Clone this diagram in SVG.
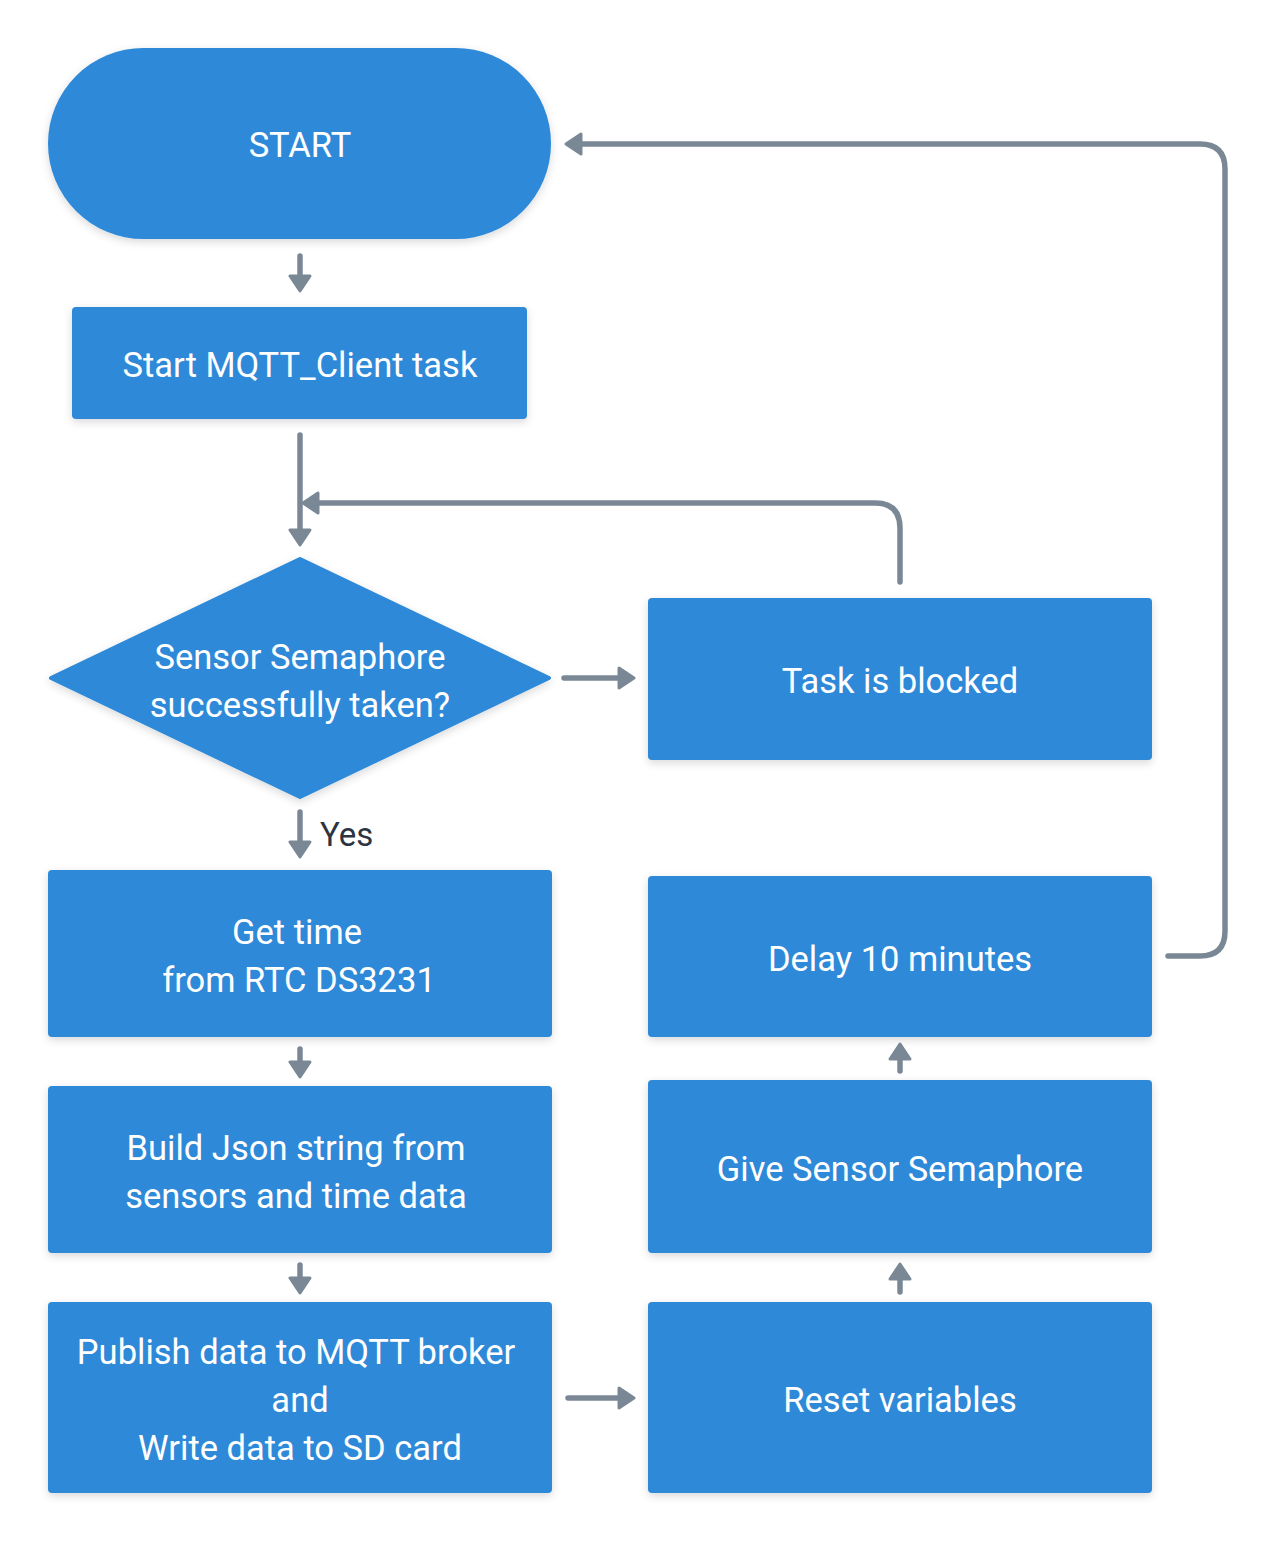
<svg xmlns="http://www.w3.org/2000/svg" width="1280" height="1542" viewBox="0 0 1280 1542">
<style>
.n{fill:#2E89D8;filter:url(#sh)}
.t{fill:#ffffff;font-family:Roboto,"Noto Sans",sans-serif;font-size:34.5px;text-anchor:middle}
.c{fill:none;stroke:#7A8896;stroke-width:5.5;stroke-linecap:round;stroke-linejoin:round}
.lbl{fill:#2B3440;font-family:Roboto,"Noto Sans",sans-serif;font-size:33px}
</style>
<defs>
<filter id="sh" x="-10%" y="-10%" width="120%" height="130%">
<feDropShadow dx="0" dy="3" stdDeviation="4" flood-color="#000" flood-opacity="0.15"/>
</filter>
<marker id="ah" viewBox="0 0 20 24" markerWidth="20" markerHeight="24" refX="11" refY="12" orient="auto" markerUnits="userSpaceOnUse">
<path d="M3,2 L18,12 L3,22 Z" fill="#7A8896" stroke="#7A8896" stroke-width="3" stroke-linejoin="round"/>
</marker>
</defs>
<rect width="1280" height="1542" fill="#ffffff"/>
<g id="connectors">
<path class="c" d="M300,256 L300,284" marker-end="url(#ah)"/>
<path class="c" d="M300,435 L300,538" marker-end="url(#ah)"/>
<path class="c" d="M900,582 L900,528 Q900,503 875,503 L310,503" marker-end="url(#ah)"/>
<path class="c" d="M564,678 L627,678" marker-end="url(#ah)"/>
<path class="c" d="M300,812 L300,850" marker-end="url(#ah)"/>
<path class="c" d="M300,1049 L300,1070" marker-end="url(#ah)"/>
<path class="c" d="M300,1265 L300,1286" marker-end="url(#ah)"/>
<path class="c" d="M568,1398 L627,1398" marker-end="url(#ah)"/>
<path class="c" d="M900,1292 L900,1271" marker-end="url(#ah)"/>
<path class="c" d="M900,1071 L900,1051" marker-end="url(#ah)"/>
<path class="c" d="M1168,956 L1200,956 Q1225,956 1225,931 L1225,169 Q1225,144 1200,144 L573,144" marker-end="url(#ah)"/>
<text class="lbl" x="320" y="846">Yes</text>
</g>
<g id="start">
<rect class="n" x="48" y="48" width="503" height="191" rx="95.5"/>
<text class="t" x="300" y="157">START</text>
</g>
<g id="mqtt">
<rect class="n" x="72" y="307" width="455" height="112" rx="4"/>
<text class="t" x="300" y="377">Start MQTT_Client task</text>
</g>
<g id="decision">
<path class="n" d="M300,559 L549,678 L300,797 L51,678 Z" stroke="#2E89D8" stroke-width="4" stroke-linejoin="round"/>
<text class="t" x="300" y="669">Sensor Semaphore</text>
<text class="t" x="300" y="717">successfully taken?</text>
</g>
<g id="blocked">
<rect class="n" x="648" y="598" width="504" height="162" rx="4"/>
<text class="t" x="900" y="693">Task is blocked</text>
</g>
<g id="gettime">
<rect class="n" x="48" y="870" width="504" height="167" rx="4"/>
<text class="t" x="297" y="944">Get time</text>
<text class="t" x="299" y="992">from RTC DS3231</text>
</g>
<g id="json">
<rect class="n" x="48" y="1086" width="504" height="167" rx="4"/>
<text class="t" x="296" y="1160">Build Json string from</text>
<text class="t" x="296" y="1208">sensors and time data</text>
</g>
<g id="publish">
<rect class="n" x="48" y="1302" width="504" height="191" rx="4"/>
<text class="t" x="296" y="1364">Publish data to MQTT broker</text>
<text class="t" x="300" y="1412">and</text>
<text class="t" x="300" y="1460">Write data to SD card</text>
</g>
<g id="reset">
<rect class="n" x="648" y="1302" width="504" height="191" rx="4"/>
<text class="t" x="900" y="1412">Reset variables</text>
</g>
<g id="give">
<rect class="n" x="648" y="1080" width="504" height="173" rx="4"/>
<text class="t" x="900" y="1181">Give Sensor Semaphore</text>
</g>
<g id="delay">
<rect class="n" x="648" y="876" width="504" height="161" rx="4"/>
<text class="t" x="900" y="971">Delay 10 minutes</text>
</g>
</svg>
